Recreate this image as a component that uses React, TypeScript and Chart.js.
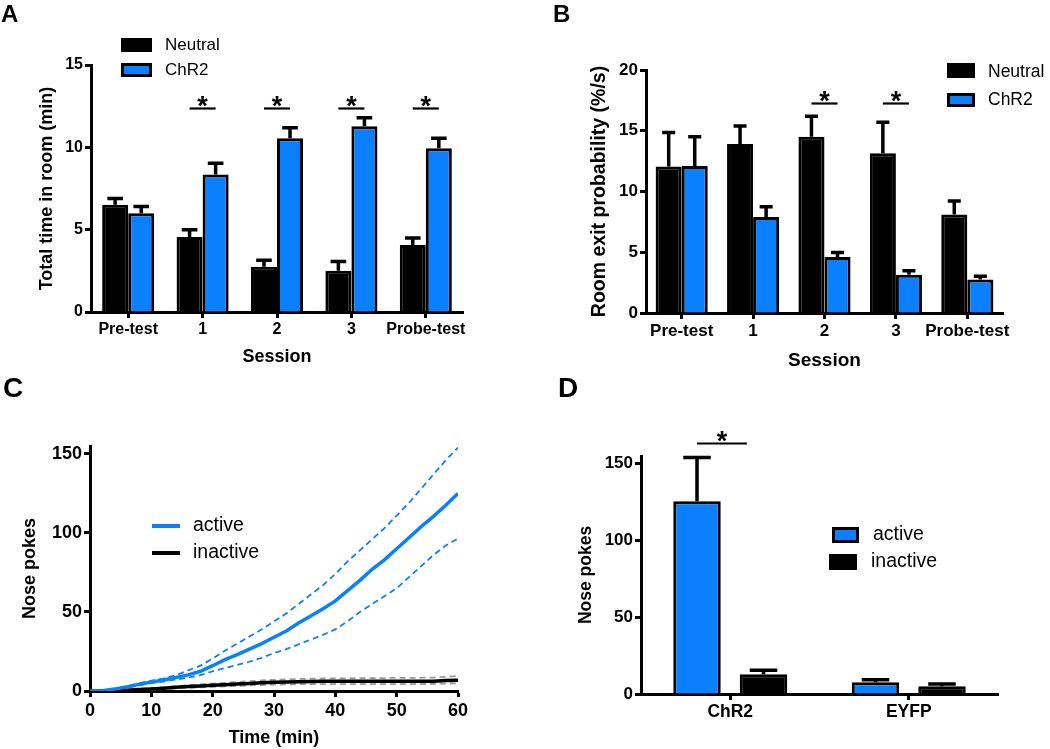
import React, { useEffect, useRef } from 'react';
import { Chart, registerables } from 'chart.js';

Chart.register(...registerables);

const FONT = "'Liberation Sans', Arial, Helvetica, sans-serif";
Chart.defaults.font.family = FONT;
Chart.defaults.color = '#000';

const BLUE = '#0a80ff';
const GRAY = '#9a9a9a';

// ---------- Panel A ----------
const sessionLabels = ['Pre-test', '1', '2', '3', 'Probe-test'];
const timeTicks = [0, 5, 10, 15];
const timeNeutral = [6.52, 4.55, 2.75, 2.5, 4.07];
const timeNeutralSem = [0.38, 0.45, 0.4, 0.56, 0.42];
const timeChR2 = [6.0, 8.35, 10.55, 11.28, 9.95];
const timeChR2Sem = [0.4, 0.68, 0.64, 0.52, 0.6];
const timeSigSessions = [1, 2, 3, 4];
const timeSigLevel = 12.4;

// ---------- Panel B ----------
const exitTicks = [0, 5, 10, 15, 20];
const exitNeutral = [12.05, 13.9, 14.5, 13.15, 8.1];
const exitNeutralSem = [2.8, 1.5, 1.7, 2.55, 1.12];
const exitChR2 = [12.1, 7.9, 4.6, 3.15, 2.75];
const exitChR2Sem = [2.4, 0.85, 0.38, 0.33, 0.27];
const exitSigSessions = [2, 3];
const exitSigLevel = 17.3;

// ---------- Panel C ----------
const pokeTicks = [0, 50, 100, 150];
const timeMin = [0, 2, 4, 6, 8, 10, 12, 14, 16, 18, 20, 22, 24, 26, 28, 30, 32, 34, 36, 38, 40, 42, 44, 46, 48, 50, 52, 54, 56, 58, 60];
const activeMean = [0, 0.2, 1.2, 2.6, 4.2, 5.7, 7, 8.5, 10.2, 12.5, 16, 19.8, 23, 26.5, 30, 34, 38, 43, 47.5, 52, 57, 63.5, 70, 77, 83, 90, 97, 104, 110.5, 117.5, 125];
const activeUpper = [0, 0.3, 1.5, 3, 5, 6.5, 8, 10, 13, 16, 20.5, 25.5, 30, 34.5, 39, 44, 49, 55, 61, 67, 74, 82, 89, 96, 103, 111, 119, 128, 137, 146, 154];
const activeLower = [0, 0.2, 1, 2.2, 3.5, 5, 6, 7.2, 8.5, 10, 12.5, 14.5, 16.5, 18.5, 21, 24, 26.5, 29.5, 32.5, 35.5, 39, 44, 50, 55, 60, 65, 72, 79, 86, 92, 96.5];
const inactiveMean = [0, 0, 0.2, 0.5, 0.9, 1.3, 1.8, 2.3, 2.8, 3.2, 3.6, 4, 4.4, 4.8, 5.2, 5.5, 5.7, 5.9, 6, 6.1, 6.1, 6.1, 6.1, 6.1, 6.1, 6.1, 6.1, 6.1, 6.2, 6.6, 6.8];
const inactiveUpper = [0, 0, 0.4, 0.8, 1.3, 1.8, 2.4, 3, 3.6, 4.2, 4.7, 5.2, 5.7, 6.2, 6.7, 7.1, 7.4, 7.6, 7.8, 7.9, 8, 8, 8.1, 8.2, 8.2, 8.3, 8.3, 8.4, 8.5, 9, 9.5];
const inactiveLower = [0, 0, 0.1, 0.2, 0.5, 0.8, 1.2, 1.6, 2, 2.3, 2.6, 2.9, 3.2, 3.5, 3.8, 4, 4.2, 4.3, 4.4, 4.4, 4.4, 4.4, 4.4, 4.4, 4.4, 4.4, 4.4, 4.4, 4.5, 4.7, 4.8];

// ---------- Panel D ----------
const groupLabels = ['ChR2', 'EYFP'];
const pokesActive = [125.5, 7.6];
const pokesActiveSem = [28.6, 1.7];
const pokesInactive = [12.8, 5.0];
const pokesInactiveSem = [2.6, 1.5];
const pokesSigGroups = [0];
const pokesSigLevel = 163.5;

// ---------- helpers ----------
type LegendItem = { kind: 'box' | 'line'; fill: string; text: string; x: number; y: number; w: number; h: number; tx: number; ty: number };

function overlayPlugin(opts: {
  letter: { text: string; x: number; y: number; size: number };
  legend: { items: LegendItem[]; size: number };
  errors?: number[][];
  capFrac?: number;
  sig?: { indices: number[]; level: number; frac: number };
}) {
  return {
    id: 'overlay' + opts.letter.text,
    afterDatasetsDraw(chart: any) {
      const ctx = chart.ctx as CanvasRenderingContext2D;
      const yScale = chart.scales.y;
      ctx.save();
      // error bars (upper only)
      if (opts.errors) {
        ctx.strokeStyle = '#000';
        ctx.lineWidth = 3.5;
        chart.data.datasets.forEach((ds: any, di: number) => {
          const meta = chart.getDatasetMeta(di);
          meta.data.forEach((bar: any, j: number) => {
            const v = ds.data[j] as number;
            const e = opts.errors![di][j];
            const yBar = yScale.getPixelForValue(v);
            const yTop = yScale.getPixelForValue(v + e);
            const half = (bar.width * (opts.capFrac || 0.6)) / 2;
            ctx.beginPath();
            ctx.moveTo(bar.x, yBar);
            ctx.lineTo(bar.x, yTop);
            ctx.moveTo(bar.x - half, yTop);
            ctx.lineTo(bar.x + half, yTop);
            ctx.stroke();
          });
        });
      }
      // significance markers
      if (opts.sig) {
        const m0 = chart.getDatasetMeta(0);
        const m1 = chart.getDatasetMeta(1);
        ctx.font = `bold 27px ${FONT}`;
        ctx.textAlign = 'center';
        ctx.textBaseline = 'alphabetic';
        const tm = ctx.measureText('*');
        opts.sig.indices.forEach((idx) => {
          const x1 = m0.data[idx].x;
          const x2 = x1 + (m1.data[idx].x - x1) * opts.sig!.frac;
          const y = Math.round(yScale.getPixelForValue(opts.sig!.level)) + 0.5;
          ctx.strokeStyle = '#000';
          ctx.lineWidth = 2.2;
          ctx.beginPath();
          ctx.moveTo(x1, y);
          ctx.lineTo(x2, y);
          ctx.stroke();
          ctx.fillStyle = '#000';
          ctx.fillText('*', (x1 + x2) / 2, y - 1.5 - tm.actualBoundingBoxDescent);
        });
      }
      // legend
      ctx.font = `${opts.legend.size}px ${FONT}`;
      ctx.textAlign = 'left';
      ctx.textBaseline = 'middle';
      opts.legend.items.forEach((it) => {
        if (it.kind === 'box') {
          ctx.fillStyle = '#000';
          ctx.fillRect(it.x, it.y, it.w, it.h);
          ctx.fillStyle = it.fill;
          ctx.fillRect(it.x + 3, it.y + 3, it.w - 6, it.h - 6);
        } else {
          ctx.strokeStyle = it.fill;
          ctx.lineWidth = it.h;
          ctx.beginPath();
          ctx.moveTo(it.x, it.y);
          ctx.lineTo(it.x + it.w, it.y);
          ctx.stroke();
        }
        ctx.fillStyle = '#000';
        ctx.fillText(it.text, it.tx, it.ty);
      });
      // panel letter
      ctx.font = `bold ${opts.letter.size}px ${FONT}`;
      ctx.textBaseline = 'alphabetic';
      ctx.fillStyle = '#000';
      ctx.fillText(opts.letter.text, opts.letter.x, opts.letter.y);
      ctx.restore();
    },
  };
}

const gridOpts = (offset: boolean) => ({
  display: true,
  drawOnChartArea: false,
  drawTicks: true,
  tickLength: 6,
  tickWidth: 3,
  tickColor: '#000',
  offset,
});
const borderOpts = { display: true, color: '#000', width: 3 };

function yAxis(o: { min: number; max: number; ticksAt: number[]; tick: number; title: string; titleSize: number; titlePad: number; width: number }) {
  return {
    type: 'linear',
    min: o.min,
    max: o.max,
    afterBuildTicks: (s: any) => {
      s.ticks = o.ticksAt.map((v) => ({ value: v }));
    },
    ticks: { font: { size: o.tick, weight: 'bold' }, color: '#000', padding: 2 },
    grid: gridOpts(false),
    border: borderOpts,
    title: { display: true, text: o.title, color: '#000', font: { size: o.titleSize, weight: 'bold' }, padding: { top: o.titlePad, bottom: 0 } },
    afterFit: (s: any) => {
      s.width = o.width;
    },
  };
}

function xCatAxis(o: { tick: number; tickPad: number; title?: string; titleSize: number; titlePad: number; height: number }) {
  return {
    type: 'category',
    offset: true,
    ticks: { font: { size: o.tick, weight: 'bold' }, color: '#000', padding: o.tickPad, maxRotation: 0, autoSkip: false },
    grid: gridOpts(false),
    border: borderOpts,
    title: { display: !!o.title, text: o.title || '', color: '#000', font: { size: o.titleSize, weight: 'bold' }, padding: { top: 0, bottom: o.titlePad } },
    afterFit: (s: any) => {
      s.height = o.height;
    },
  };
}

const baseOpts = {
  responsive: false,
  animation: false,
  events: [] as any[],
  plugins: { legend: { display: false }, tooltip: { enabled: false } },
};

function configA() {
  return {
    type: 'bar',
    data: {
      labels: sessionLabels,
      datasets: [
        { label: 'Neutral', data: timeNeutral, backgroundColor: '#000', borderColor: '#000', borderWidth: 3, categoryPercentage: 0.7, barPercentage: 1 },
        { label: 'ChR2', data: timeChR2, backgroundColor: BLUE, borderColor: '#000', borderWidth: 3, categoryPercentage: 0.7, barPercentage: 1 },
      ],
    },
    options: {
      ...baseOpts,
      layout: { padding: { left: 0, top: 65, right: 57, bottom: 0 } },
      scales: {
        x: xCatAxis({ tick: 16, tickPad: 2, title: 'Session', titleSize: 18, titlePad: 7, height: 63 }),
        y: yAxis({ min: 0, max: 15, ticksAt: timeTicks, tick: 16, title: 'Total time in room (min)', titleSize: 18, titlePad: 36, width: 91 }),
      },
    },
    plugins: [
      overlayPlugin({
        letter: { text: 'A', x: 1, y: 22, size: 24 },
        legend: {
          size: 17,
          items: [
            { kind: 'box', fill: '#000', text: 'Neutral', x: 121, y: 38, w: 31, h: 14, tx: 165, ty: 45 },
            { kind: 'box', fill: BLUE, text: 'ChR2', x: 121, y: 63, w: 31, h: 14, tx: 165, ty: 70 },
          ],
        },
        errors: [timeNeutralSem, timeChR2Sem],
        capFrac: 0.6,
        sig: { indices: timeSigSessions, level: timeSigLevel, frac: 1 },
      }),
    ],
  };
}

function configB() {
  return {
    type: 'bar',
    data: {
      labels: sessionLabels,
      datasets: [
        { label: 'Neutral', data: exitNeutral, backgroundColor: '#000', borderColor: '#000', borderWidth: 3, categoryPercentage: 0.73, barPercentage: 1 },
        { label: 'ChR2', data: exitChR2, backgroundColor: BLUE, borderColor: '#000', borderWidth: 3, categoryPercentage: 0.73, barPercentage: 1 },
      ],
    },
    options: {
      ...baseOpts,
      layout: { padding: { left: 0, top: 70, right: 47, bottom: 0 } },
      scales: {
        x: xCatAxis({ tick: 17, tickPad: 2, title: 'Session', titleSize: 19, titlePad: 3, height: 62 }),
        y: yAxis({ min: 0, max: 20, ticksAt: exitTicks, tick: 17, title: 'Room exit probability (%/s)', titleSize: 19.5, titlePad: 68, width: 126 }),
      },
    },
    plugins: [
      overlayPlugin({
        letter: { text: 'B', x: 33, y: 22, size: 24 },
        legend: {
          size: 17.5,
          items: [
            { kind: 'box', fill: '#000', text: 'Neutral', x: 427, y: 63, w: 28, h: 15, tx: 468, ty: 72 },
            { kind: 'box', fill: BLUE, text: 'ChR2', x: 427, y: 93, w: 28, h: 14, tx: 468, ty: 100 },
          ],
        },
        errors: [exitNeutralSem, exitChR2Sem],
        capFrac: 0.5,
        sig: { indices: exitSigSessions, level: exitSigLevel, frac: 1 },
      }),
    ],
  };
}

function configC() {
  const pts = (arr: number[]) => timeMin.map((t, i) => ({ x: t, y: arr[i] }));
  const common = { pointRadius: 0, tension: 0, fill: false };
  return {
    type: 'line',
    data: {
      datasets: [
        { label: 'active', data: pts(activeMean), borderColor: BLUE, borderWidth: 3.5, ...common },
        { label: 'active +SEM', data: pts(activeUpper), borderColor: BLUE, borderWidth: 1.8, borderDash: [6, 4], ...common },
        { label: 'active -SEM', data: pts(activeLower), borderColor: BLUE, borderWidth: 1.8, borderDash: [6, 4], ...common },
        { label: 'inactive', data: pts(inactiveMean), borderColor: '#000', borderWidth: 3.5, ...common },
        { label: 'inactive +SEM', data: pts(inactiveUpper), borderColor: GRAY, borderWidth: 1.8, borderDash: [6, 4], ...common },
        { label: 'inactive -SEM', data: pts(inactiveLower), borderColor: GRAY, borderWidth: 1.8, borderDash: [6, 4], ...common },
      ],
    },
    options: {
      ...baseOpts,
      layout: { padding: { left: 0, top: 71, right: 62, bottom: 0 } },
      scales: {
        x: {
          type: 'linear',
          min: 0,
          max: 60,
          ticks: { stepSize: 10, font: { size: 18, weight: 'bold' }, color: '#000', padding: 3, maxRotation: 0 },
          grid: gridOpts(false),
          border: borderOpts,
          title: { display: true, text: 'Time (min)', color: '#000', font: { size: 18, weight: 'bold' }, padding: { top: 0, bottom: 0 } },
          afterFit: (s: any) => {
            s.height = 58;
          },
        },
        y: yAxis({ min: 0, max: 155, ticksAt: pokeTicks, tick: 18, title: 'Nose pokes', titleSize: 18, titlePad: 19, width: 90 }),
      },
    },
    plugins: [
      overlayPlugin({
        letter: { text: 'C', x: 3, y: 22, size: 28 },
        legend: {
          size: 19.5,
          items: [
            { kind: 'line', fill: BLUE, text: 'active', x: 152, y: 151, w: 28, h: 4, tx: 193, ty: 151 },
            { kind: 'line', fill: '#000', text: 'inactive', x: 152, y: 178, w: 28, h: 4, tx: 193, ty: 178 },
          ],
        },
      }),
    ],
  };
}

function configD() {
  return {
    type: 'bar',
    data: {
      labels: groupLabels,
      datasets: [
        { label: 'active', data: pokesActive, backgroundColor: BLUE, borderColor: '#000', borderWidth: 3, categoryPercentage: 0.745, barPercentage: 0.714 },
        { label: 'inactive', data: pokesInactive, backgroundColor: '#000', borderColor: '#000', borderWidth: 3, categoryPercentage: 0.745, barPercentage: 0.714 },
      ],
    },
    options: {
      ...baseOpts,
      layout: { padding: { left: 0, top: 81, right: 52, bottom: 0 } },
      scales: {
        x: xCatAxis({ tick: 17.5, tickPad: 2, titleSize: 17, titlePad: 0, height: 55 }),
        y: yAxis({ min: 0, max: 155, ticksAt: pokeTicks, tick: 17, title: 'Nose pokes', titleSize: 17.5, titlePad: 56, width: 121 }),
      },
    },
    plugins: [
      overlayPlugin({
        letter: { text: 'D', x: 38, y: 22, size: 28 },
        legend: {
          size: 19.5,
          items: [
            { kind: 'box', fill: BLUE, text: 'active', x: 312, y: 152, w: 27, h: 16, tx: 353, ty: 160 },
            { kind: 'box', fill: '#000', text: 'inactive', x: 309, y: 179, w: 28, h: 16, tx: 351, ty: 187 },
          ],
        },
        errors: [pokesActiveSem, pokesInactiveSem],
        capFrac: 0.58,
        sig: { indices: pokesSigGroups, level: pokesSigLevel, frac: 0.75 },
      }),
    ],
  };
}

function Panel(props: { left: number; top: number; width: number; height: number; make: () => any }) {
  const ref = useRef<HTMLCanvasElement | null>(null);
  useEffect(() => {
    if (!ref.current) return;
    const chart = new Chart(ref.current, props.make());
    return () => chart.destroy();
  }, []);
  return (
    <canvas
      ref={ref}
      width={props.width}
      height={props.height}
      style={{ position: 'absolute', left: props.left, top: props.top, width: props.width, height: props.height }}
    />
  );
}

export default function App() {
  return (
    <div style={{ position: 'absolute', left: 0, top: 0, width: 1050, height: 749, background: '#fff', overflow: 'hidden' }}>
      <Panel left={0} top={0} width={520} height={375} make={configA} />
      <Panel left={520} top={0} width={530} height={375} make={configB} />
      <Panel left={0} top={375} width={520} height={374} make={configC} />
      <Panel left={520} top={375} width={530} height={374} make={configD} />
    </div>
  );
}
